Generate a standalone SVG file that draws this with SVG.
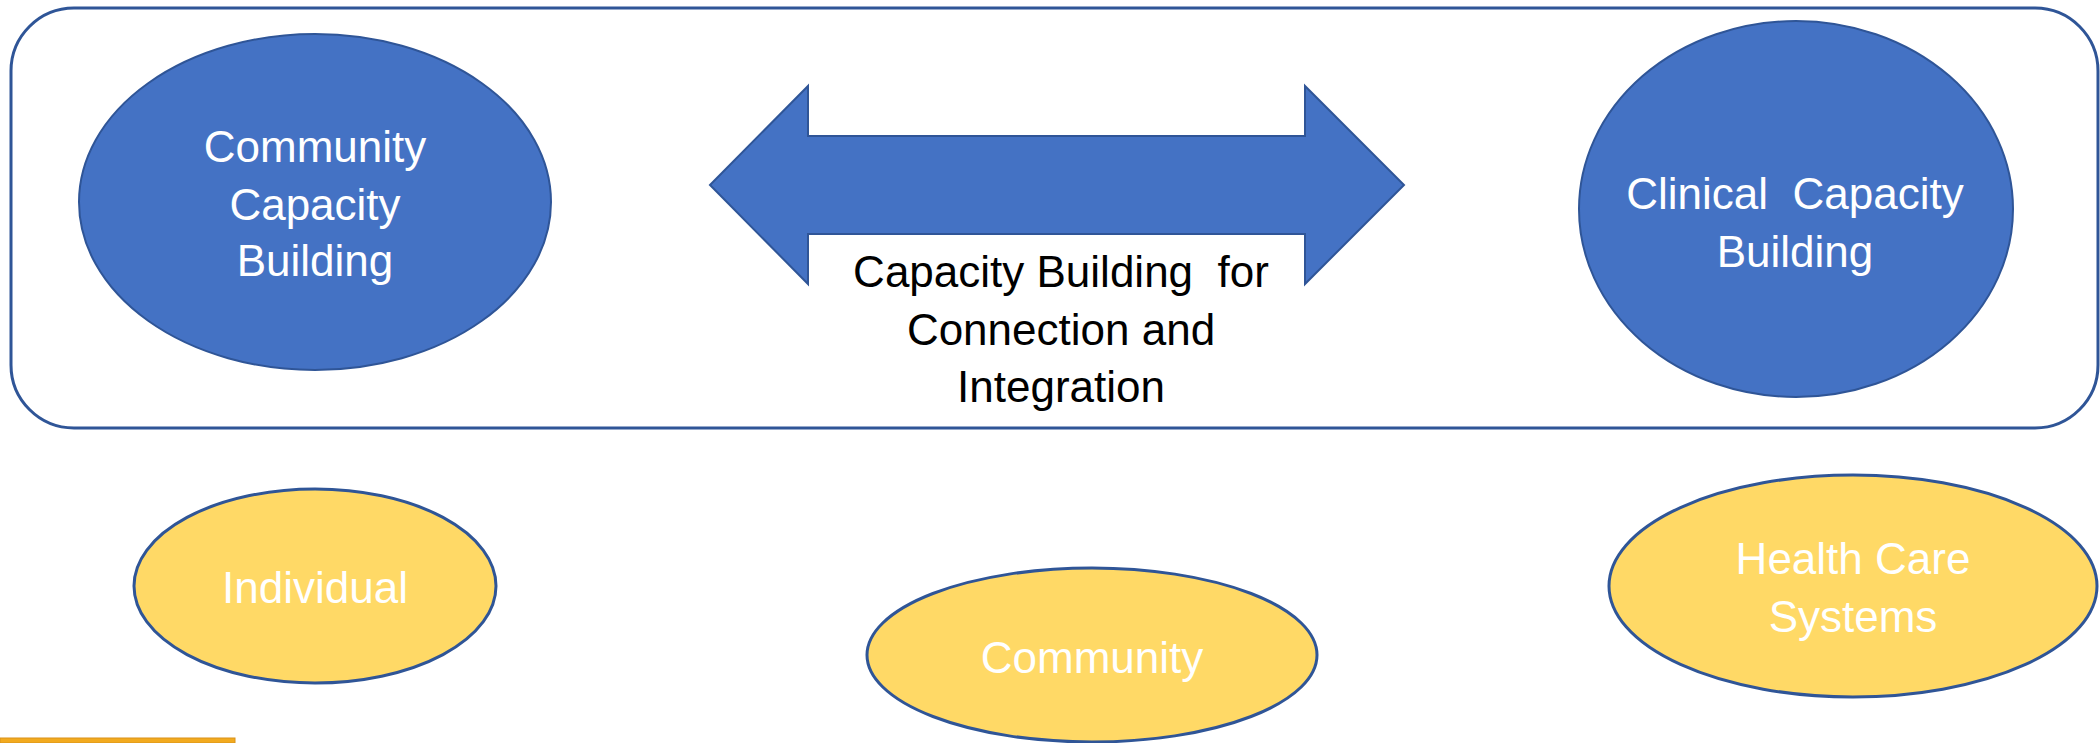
<svg xmlns="http://www.w3.org/2000/svg" width="2100" height="743" viewBox="0 0 2100 743">
<style>
.frame{fill:#FFFFFF;stroke:#2F5597;stroke-width:3}
.blue{fill:#4472C4;stroke:#2F5597;stroke-width:2}
.yellow{fill:#FFD966;stroke:#2F5597;stroke-width:3}
.t{font-family:"Liberation Sans",Arial,sans-serif;font-size:44px;text-anchor:middle;white-space:pre}
.w{fill:#FFFFFF}
.k{fill:#000000}
</style>
<rect width="2100" height="743" fill="#FFFFFF"/>
<g id="frame">
<rect class="frame" x="11" y="8" width="2087" height="420" rx="63" ry="63"/>
</g>
<g id="connectors">
<polygon id="double-arrow" class="blue" stroke-width="1.5" points="710,185 808,86 808,136 1305,136 1305,86 1404,185 1305,284 1305,234 808,234 808,284"/>
<text class="t k" x="1061" y="287">Capacity Building  for</text>
<text class="t k" x="1061" y="345">Connection and</text>
<text class="t k" x="1061" y="402">Integration</text>
</g>
<g id="community-capacity-building">
<ellipse class="blue" cx="315" cy="202" rx="236" ry="168"/>
<text class="t w" x="315" y="162">Community</text>
<text class="t w" x="315" y="220">Capacity</text>
<text class="t w" x="315" y="276">Building</text>
</g>
<g id="clinical-capacity-building">
<ellipse class="blue" cx="1796" cy="209" rx="217" ry="188"/>
<text class="t w" x="1795" y="209">Clinical  Capacity</text>
<text class="t w" x="1795" y="267">Building</text>
</g>
<g id="individual">
<ellipse class="yellow" cx="315" cy="586" rx="181" ry="97"/>
<text class="t w" x="315" y="603">Individual</text>
</g>
<g id="community">
<ellipse class="yellow" cx="1092" cy="655" rx="225" ry="87"/>
<text class="t w" x="1092" y="673">Community</text>
</g>
<g id="health-care-systems">
<ellipse class="yellow" cx="1853" cy="586" rx="244" ry="111"/>
<text class="t w" x="1853" y="574">Health Care</text>
<text class="t w" x="1853" y="632">Systems</text>
</g>
<g id="orange-bar">
<rect x="0" y="738" width="235" height="5" fill="#F2AA1F" stroke="#D9921A" stroke-width="1"/>
</g>
</svg>
